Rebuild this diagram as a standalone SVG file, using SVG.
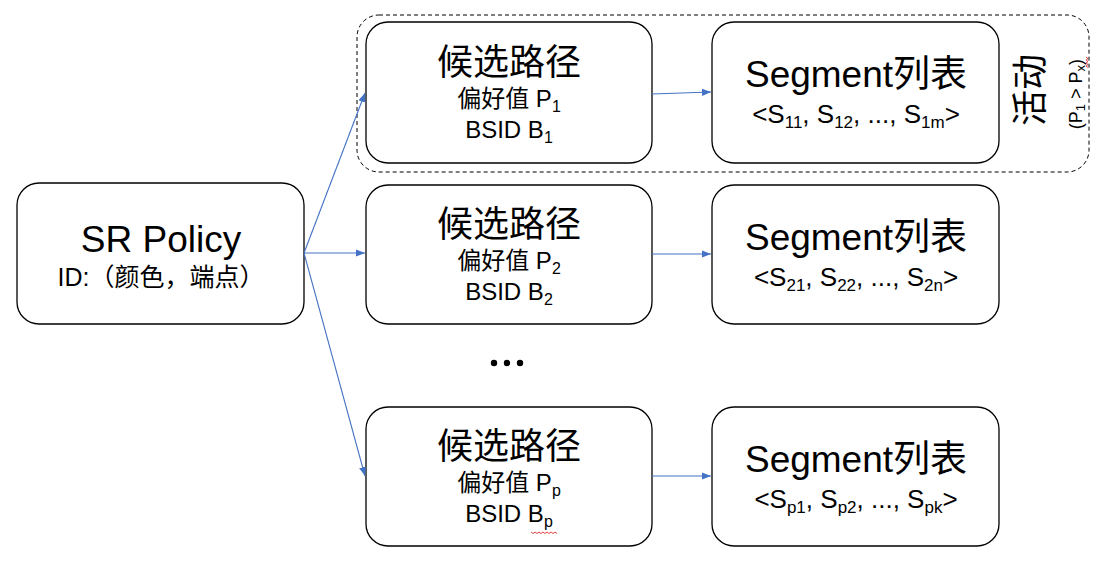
<svg xmlns="http://www.w3.org/2000/svg" width="1097" height="563" viewBox="0 0 1097 563">
<defs>
<style>
.box{fill:#fff;stroke:#000;stroke-width:1.3}
.t{font-family:"Liberation Sans","Noto Sans CJK SC",sans-serif;fill:#000;text-anchor:middle}
.title{font-size:36px}
.big{font-size:37px}
.pref{font-size:24px}
.bsid{font-size:24px}
.list{font-size:26px}
.sub{font-size:16px}
.lsub{font-size:17px}
.ln{stroke:#4472c4;stroke-width:1.1;fill:none}
.sq{stroke:#e03030;stroke-width:0.9;fill:none}
</style>
<marker id="ah" viewBox="0 0 10 10" refX="10" refY="5" markerWidth="9" markerHeight="9" markerUnits="userSpaceOnUse" orient="auto">
<path d="M0,1 L10,5 L0,9 z" fill="#4472c4"/>
</marker>
</defs>
<rect x="0" y="0" width="1097" height="563" fill="#fff"/>
<g id="active">
<rect x="357" y="15" width="732" height="157" rx="22" fill="none" stroke="#000" stroke-width="1" stroke-dasharray="4,3"/>
<text class="t" style="font-size:36px" transform="translate(1043,90) rotate(-90)">活动</text>
<text class="t" style="font-size:18px" transform="translate(1082,94) rotate(-90)">(P<tspan style="font-size:13px" dy="3">1</tspan><tspan dy="-3"> &gt; P</tspan><tspan style="font-size:13px" dy="3">x</tspan><tspan dy="-3">)</tspan></text>
<path class="sq" d="M1086,57 l2,1.5 l-2,1.5 l2,1.5 l-2,1.5 l2,1.5 l-2,1.5 l2,1.5"/>
</g>
<g id="policy">
<rect class="box" x="17" y="183" width="287" height="141" rx="22"/>
<text class="t big" x="161" y="252">SR Policy</text>
<text class="t" x="161" y="286" style="font-size:25px">ID:（颜色，端点）</text>
</g>
<g id="cand1">
<rect class="box" x="366" y="22" width="286" height="141" rx="22"/>
<text class="t title" x="509" y="75">候选路径</text>
<text class="t pref" x="509" y="107">偏好值  P<tspan class="sub" dy="5">1</tspan></text>
<text class="t bsid" x="509" y="138">BSID B<tspan class="sub" dy="5">1</tspan></text>
</g>
<g id="cand2">
<rect class="box" x="366" y="185" width="286" height="139" rx="22"/>
<text class="t title" x="509" y="237">候选路径</text>
<text class="t pref" x="509" y="269">偏好值  P<tspan class="sub" dy="5">2</tspan></text>
<text class="t bsid" x="509" y="300">BSID B<tspan class="sub" dy="5">2</tspan></text>
</g>
<g id="candp">
<rect class="box" x="366" y="407" width="286" height="139" rx="22"/>
<text class="t title" x="509" y="459">候选路径</text>
<text class="t pref" x="509" y="491">偏好值  P<tspan class="sub" dy="5">p</tspan></text>
<text class="t bsid" x="509" y="522">BSID B<tspan class="sub" dy="5">p</tspan></text>
<path class="sq" d="M531,532 l2,1.5 l2,-1.5 l2,1.5 l2,-1.5 l2,1.5 l2,-1.5 l2,1.5 l2,-1.5 l2,1.5 l2,-1.5 l2,1.5 l2,-1.5 l2,1.5"/>
</g>
<g id="seg1">
<rect class="box" x="712" y="22" width="287" height="141" rx="22"/>
<text class="t big" x="856" y="87">Segment列表</text>
<text class="t list" x="856" y="123">&lt;S<tspan class="lsub" dy="5">11</tspan><tspan dy="-5">, S</tspan><tspan class="lsub" dy="5">12</tspan><tspan dy="-5">, ..., S</tspan><tspan class="lsub" dy="5">1m</tspan><tspan dy="-5">&gt;</tspan></text>
</g>
<g id="seg2">
<rect class="box" x="712" y="185" width="287" height="139" rx="22"/>
<text class="t big" x="856" y="250">Segment列表</text>
<text class="t list" x="856" y="286">&lt;S<tspan class="lsub" dy="5">21</tspan><tspan dy="-5">, S</tspan><tspan class="lsub" dy="5">22</tspan><tspan dy="-5">, ..., S</tspan><tspan class="lsub" dy="5">2n</tspan><tspan dy="-5">&gt;</tspan></text>
</g>
<g id="segp">
<rect class="box" x="712" y="407" width="287" height="139" rx="22"/>
<text class="t big" x="856" y="472">Segment列表</text>
<text class="t list" x="856" y="508">&lt;S<tspan class="lsub" dy="5">p1</tspan><tspan dy="-5">, S</tspan><tspan class="lsub" dy="5">p2</tspan><tspan dy="-5">, ..., S</tspan><tspan class="lsub" dy="5">pk</tspan><tspan dy="-5">&gt;</tspan></text>
</g>
<g id="ellipsis">
<circle cx="494" cy="363" r="3.2"/>
<circle cx="507" cy="363" r="3.2"/>
<circle cx="520" cy="363" r="3.2"/>
</g>
<g id="connectors">
<line class="ln" x1="304" y1="253" x2="365" y2="93" marker-end="url(#ah)"/>
<line class="ln" x1="304" y1="253" x2="365" y2="253" marker-end="url(#ah)"/>
<line class="ln" x1="304" y1="253" x2="365" y2="476" marker-end="url(#ah)"/>
<line class="ln" x1="652" y1="94" x2="711" y2="92" marker-end="url(#ah)"/>
<line class="ln" x1="652" y1="254" x2="711" y2="254" marker-end="url(#ah)"/>
<line class="ln" x1="652" y1="476" x2="711" y2="476" marker-end="url(#ah)"/>
</g>
</svg>
